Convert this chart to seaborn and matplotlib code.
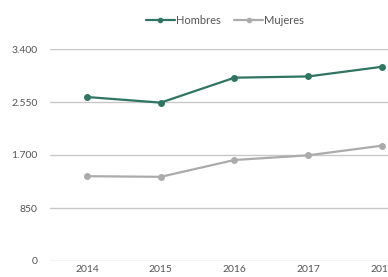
import matplotlib
matplotlib.use("Agg")
import matplotlib.pyplot as plt
import seaborn as sns
import pandas as pd
from matplotlib.ticker import FuncFormatter

years = ["2014", "2015", "2016", "2017", "2018"]
hombres = [2630, 2540, 2940, 2960, 3115]
mujeres = [1360, 1350, 1620, 1695, 1850]
y_ticks = [0, 850, 1700, 2550, 3400]

GREEN = "#2f7561"
GREY = "#ababab"

df = pd.DataFrame({
    "year": years * 2,
    "value": hombres + mujeres,
    "serie": ["Hombres"] * len(years) + ["Mujeres"] * len(years),
})

sns.set_style("white")
plt.rcParams["font.family"] = ["Lato", "DejaVu Sans"]

fig = plt.figure(figsize=(3.88, 2.77), dpi=100)
ax = fig.add_axes([50 / 388, 16 / 277, 1 - 50 / 388, 212 / 277])

sns.lineplot(data=df, x="year", y="value", hue="serie",
             palette={"Hombres": GREEN, "Mujeres": GREY},
             marker="o", markersize=5, markeredgewidth=0,
             linewidth=1.6, ax=ax, sort=False)

ax.set_xlim(-0.5, 4.08)
ax.set_ylim(0, 3400)
ax.set_yticks(y_ticks)
ax.yaxis.set_major_formatter(FuncFormatter(lambda v, p: f"{int(v):,}".replace(",", ".")))
ax.grid(axis="y", color="#c8c8c8", linewidth=1)
ax.set_axisbelow(True)
for s in ax.spines.values():
    s.set_visible(False)
ax.tick_params(axis="both", length=0, labelsize=7.5, labelcolor="#555555")
ax.tick_params(axis="y", pad=9)
ax.tick_params(axis="x", pad=3)
ax.set_xlabel("")
ax.set_ylabel("")

leg = ax.legend(loc="upper center", bbox_to_anchor=(225 / 388, 1 - 5 / 277),
                bbox_transform=fig.transFigure, ncol=2, frameon=False,
                fontsize=8, handlelength=2.6, columnspacing=1.2, handletextpad=0.1)
for h in leg.legend_handles:
    h.set_markersize(4)
for t in leg.get_texts():
    t.set_color("#555555")

fig.savefig("out.png", dpi=100)
